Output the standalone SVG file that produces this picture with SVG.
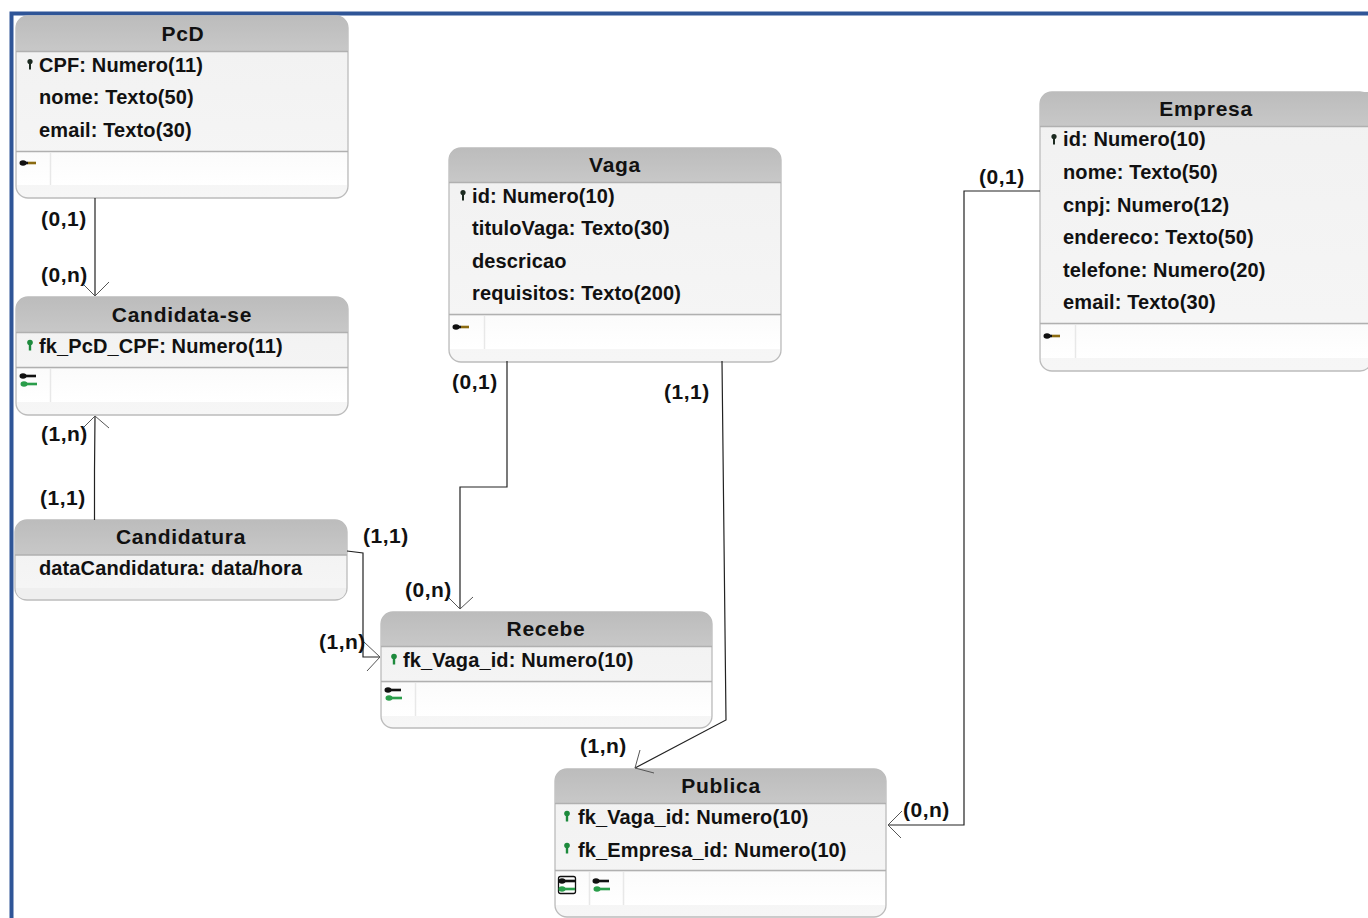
<svg xmlns="http://www.w3.org/2000/svg" width="1368" height="918" viewBox="0 0 1368 918">
<style>
text{font-family:"Liberation Sans",Arial,sans-serif;font-weight:bold;fill:#111}
.t{font-size:21px;text-anchor:middle;letter-spacing:.7px}
.a{font-size:20px;letter-spacing:.12px}
.c{font-size:21px;letter-spacing:.5px}
.box{fill:url(#body);stroke:#bcbcbc;stroke-width:1.3}
.hd{fill:url(#head)}
.ln{stroke:#b0b0b0;stroke-width:1.6;fill:none}
.sep{stroke:#e8e8e8;stroke-width:1.5}
.comp{fill:url(#comp)}
.foot{fill:#efefef}
.conn{fill:none;stroke:#222;stroke-width:1.2}
.head{fill:none;stroke:#555;stroke-width:1}
</style>
<defs>
<linearGradient id="head" x1="0" y1="0" x2="0" y2="1"><stop offset="0" stop-color="#bcbcbc"/><stop offset="1" stop-color="#c8c8c8"/></linearGradient>
<linearGradient id="body" x1="0" y1="0" x2="0" y2="1"><stop offset="0" stop-color="#f1f1f1"/><stop offset="1" stop-color="#f6f6f6"/></linearGradient>
<linearGradient id="comp" x1="0" y1="0" x2="0" y2="1"><stop offset="0" stop-color="#fbfbfb"/><stop offset="1" stop-color="#ffffff"/></linearGradient>
<g id="pk"><circle cx="0" cy="-2.500" r="2.600" fill="#1c2a20"/><rect x="-1" y="-1" width="2" height="6.500" fill="#1c2a20"/></g>
<g id="fk"><circle cx="0" cy="-2.500" r="2.800" fill="#1d8a3c"/><rect x="-1.200" y="-1" width="2.400" height="6.500" fill="#1d8a3c"/></g>
<g id="kh"><ellipse cx="-5" cy="0" rx="3.500" ry="2.800" fill="#111"/><rect x="-3" y="-1.300" width="11" height="2.600" fill="#111"/></g>
<g id="kp"><ellipse cx="-5" cy="0" rx="3.500" ry="2.800" fill="#111"/><rect x="-3" y="-1.300" width="3" height="2.600" fill="#111"/><rect x="0" y="-1.300" width="8" height="2.600" fill="#8a6a10"/></g>
<g id="kg"><ellipse cx="-5" cy="0" rx="3.500" ry="2.800" fill="#2a9d4a"/><rect x="-3" y="-1.300" width="11" height="2.600" fill="#2a9d4a"/></g>
</defs>
<rect width="1368" height="918" fill="#fff"/>
<path d="M11.500 918V13.500H1368" fill="none" stroke="#2f5597" stroke-width="4"/>

<g id="pcd">
<rect class="box" x="16" y="16" width="332" height="182" rx="12"/>
<path class="hd" d="M16 52V28a12 12 0 0 1 12-12H336a12 12 0 0 1 12 12V52z"/>
<rect class="comp" x="17" y="152" width="330" height="33"/>
<path class="ln" d="M16 51.500H348M16 151.500H348"/><path class="sep" d="M50.500 153V185"/>
<text class="t" x="183" y="41">PcD</text>
<use href="#pk" x="30" y="64"/>
<text class="a" x="39" y="72">CPF: Numero(11)</text>
<text class="a" x="39" y="104">nome: Texto(50)</text>
<text class="a" x="39" y="137">email: Texto(30)</text>
<use href="#kp" x="28" y="163"/>
</g>

<g id="candidata-se">
<rect class="box" x="16" y="297" width="332" height="118" rx="12"/>
<path class="hd" d="M16 333V309a12 12 0 0 1 12-12H336a12 12 0 0 1 12 12V333z"/>
<rect class="comp" x="17" y="369" width="330" height="33"/>
<path class="ln" d="M16 332.500H348M16 367.500H348"/><path class="sep" d="M50.500 369V402"/>
<text class="t" x="182" y="322">Candidata-se</text>
<use href="#fk" x="30" y="345"/>
<text class="a" x="39" y="353">fk_PcD_CPF: Numero(11)</text>
<use href="#kh" x="28" y="376"/><use href="#kg" x="29" y="384"/>
</g>

<g id="candidatura">
<rect class="box" x="15" y="520" width="332" height="80" rx="12"/>
<path class="hd" d="M15 555V532a12 12 0 0 1 12-12H335a12 12 0 0 1 12 12V555z"/>
<path class="foot" d="M16 588H346V590a9 9 0 0 1-9 9H25a9 9 0 0 1-9-9z"/>
<path class="ln" d="M15 555H347"/>
<text class="t" x="181" y="544">Candidatura</text>
<text class="a" x="39" y="575">dataCandidatura: data/hora</text>
</g>

<g id="vaga">
<rect class="box" x="449" y="148" width="332" height="214" rx="12"/>
<path class="hd" d="M449 183V160a12 12 0 0 1 12-12H769a12 12 0 0 1 12 12V183z"/>
<rect class="comp" x="450" y="316" width="330" height="33"/>
<path class="ln" d="M449 182.500H781M449 314.500H781"/><path class="sep" d="M484.500 316V349"/>
<text class="t" x="615" y="172">Vaga</text>
<use href="#pk" x="463" y="195"/>
<text class="a" x="472" y="203">id: Numero(10)</text>
<text class="a" x="472" y="235">tituloVaga: Texto(30)</text>
<text class="a" x="472" y="268">descricao</text>
<text class="a" x="472" y="300">requisitos: Texto(200)</text>
<use href="#kp" x="461" y="327"/>
</g>

<g id="empresa">
<rect class="box" x="1040" y="92" width="332" height="279" rx="12"/>
<path class="hd" d="M1040 127V104a12 12 0 0 1 12-12H1372V127z"/>
<rect class="comp" x="1041" y="325" width="327" height="33"/>
<path class="ln" d="M1040 126.500H1368M1040 323.500H1368"/><path class="sep" d="M1075.500 325V358"/>
<text class="t" x="1206" y="116">Empresa</text>
<use href="#pk" x="1054" y="139"/>
<text class="a" x="1063" y="146">id: Numero(10)</text>
<text class="a" x="1063" y="179">nome: Texto(50)</text>
<text class="a" x="1063" y="212">cnpj: Numero(12)</text>
<text class="a" x="1063" y="244">endereco: Texto(50)</text>
<text class="a" x="1063" y="277">telefone: Numero(20)</text>
<text class="a" x="1063" y="309">email: Texto(30)</text>
<use href="#kp" x="1052" y="336"/>
</g>

<g id="recebe">
<rect class="box" x="381" y="612" width="331" height="116" rx="12"/>
<path class="hd" d="M381 647V624a12 12 0 0 1 12-12H700a12 12 0 0 1 12 12V647z"/>
<rect class="comp" x="382" y="683" width="329" height="33"/>
<path class="ln" d="M381 646.500H712M381 681.500H712"/><path class="sep" d="M415.500 683V716"/>
<text class="t" x="546" y="636">Recebe</text>
<use href="#fk" x="394" y="659"/>
<text class="a" x="403" y="667">fk_Vaga_id: Numero(10)</text>
<use href="#kh" x="393" y="690"/><use href="#kg" x="394" y="698"/>
</g>

<g id="publica">
<rect class="box" x="555" y="769" width="331" height="148" rx="12"/>
<path class="hd" d="M555 804V781a12 12 0 0 1 12-12H874a12 12 0 0 1 12 12V804z"/>
<rect class="comp" x="556" y="872" width="329" height="33"/>
<path class="ln" d="M555 803.500H886M555 870.500H886"/><path class="sep" d="M589.500 872V905M623.500 872V905"/>
<text class="t" x="721" y="793">Publica</text>
<use href="#fk" x="567" y="816"/>
<text class="a" x="578" y="824">fk_Vaga_id: Numero(10)</text>
<use href="#fk" x="567" y="848"/>
<text class="a" x="578" y="857">fk_Empresa_id: Numero(10)</text>
<rect x="558.500" y="876.500" width="17" height="17" rx="2" fill="#fff" stroke="#111" stroke-width="1.300"/>
<use href="#kh" x="567" y="881"/><use href="#kg" x="567" y="889"/>
<use href="#kh" x="601" y="881"/><use href="#kg" x="602" y="889"/>
</g>

<g id="connectors">
<path class="conn" d="M95 198V296"/><path class="head" d="M84 285L95 296L109 282"/>
<path class="conn" d="M94.500 520V470L95 416"/><path class="head" d="M84 427L95 416L109 428"/>
<path class="conn" d="M347 551L363 553V657H380"/><path class="head" d="M364 642L380 657L367 671"/>
<path class="conn" d="M507 361V487H460V609"/><path class="head" d="M448 597L460 609L473 597"/>
<path class="conn" d="M722 361L726 720L635 768"/><path class="head" d="M640 750L635 768L654 773"/>
<path class="conn" d="M1040 191H964V825H888"/><path class="head" d="M902 811L888 825L901 838"/>
</g>

<g id="labels">
<text class="c" x="41" y="226">(0,1)</text>
<text class="c" x="41" y="282">(0,n)</text>
<text class="c" x="41" y="441">(1,n)</text>
<text class="c" x="40" y="505">(1,1)</text>
<text class="c" x="363" y="543">(1,1)</text>
<text class="c" x="319" y="649">(1,n)</text>
<text class="c" x="405" y="597">(0,n)</text>
<text class="c" x="452" y="389">(0,1)</text>
<text class="c" x="664" y="399">(1,1)</text>
<text class="c" x="580" y="753">(1,n)</text>
<text class="c" x="903" y="817">(0,n)</text>
<text class="c" x="979" y="184">(0,1)</text>
</g>
</svg>
